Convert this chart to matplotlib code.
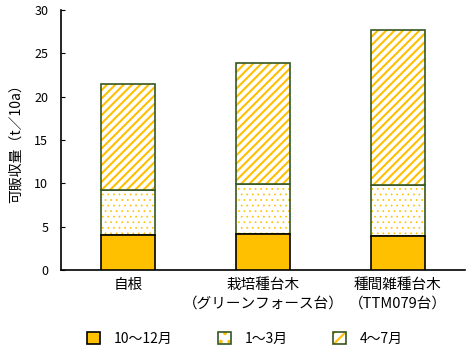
import numpy as np
import matplotlib
matplotlib.use('Agg')
import matplotlib.pyplot as plt
from matplotlib.patches import Patch
from matplotlib.legend_handler import HandlerTuple

plt.rcParams['font.family'] = ['Noto Sans CJK JP', 'DejaVu Sans']
plt.rcParams['hatch.color'] = '#FFC000'
plt.rcParams['hatch.linewidth'] = 1.5

categories = ['自根', '栽培種台木\n（グリーンフォース台）', '種間雑種台木\n（TTM079台）']
oct_dec = [4.0, 4.1, 3.9]
jan_mar = [5.2, 5.8, 5.9]
apr_jul = [12.3, 14.0, 17.9]
series_names = ['10～12月', '1～3月', '4～7月']

gold = '#FFC000'
green = '#375623'

fig = plt.figure(figsize=(4.75, 3.55), dpi=100)
ax = fig.add_axes([0.128, 0.2394, 0.851, 0.7324])

x = np.arange(len(categories))
w = 0.4
b2 = np.array(oct_dec)
b3 = b2 + np.array(jan_mar)

# 10-12: solid
ax.bar(x, oct_dec, w, color=gold, edgecolor='black', linewidth=1.2, zorder=3)

# 1-3: dots (hatch in gold, edge drawn separately in green)
dots = ax.bar(x, jan_mar, w, bottom=b2, facecolor='white', hatch='...', linewidth=0, zorder=2)
for p in dots:
    try:
        p.set_hatch_linewidth(0.5)
    except AttributeError:
        pass
ax.bar(x, jan_mar, w, bottom=b2, fill=False, edgecolor=green, linewidth=1.2, zorder=2)

# 4-7: diagonal stripes
ax.bar(x, apr_jul, w, bottom=b3, facecolor='white', hatch='////', linewidth=0, zorder=2)
ax.bar(x, apr_jul, w, bottom=b3, fill=False, edgecolor=green, linewidth=1.2, zorder=2)

ax.set_xlim(-0.5, 2.5)
ax.set_ylim(0, 30)
ax.set_yticks(range(0, 31, 5))
ax.set_xticks(x)
ax.set_xticklabels(categories, fontsize=10.5, linespacing=1.4)
ax.tick_params(axis='x', length=0, pad=6)
ax.tick_params(axis='y', direction='in', length=3, labelsize=9, pad=9)
ax.spines['top'].set_visible(False)
ax.spines['right'].set_visible(False)
ax.spines['left'].set_linewidth(1.2)
ax.spines['bottom'].set_linewidth(1.2)
ax.set_ylabel('可販収量（t／10a）', fontsize=10, labelpad=8)

h1 = Patch(facecolor=gold, edgecolor='black', linewidth=1.2)
h2a = Patch(facecolor='white', hatch='..')
h2b = Patch(fill=False, edgecolor=green, linewidth=1.2)
h3a = Patch(facecolor='white', hatch='///')
h3b = Patch(fill=False, edgecolor=green, linewidth=1.2)
fig.legend([h1, (h2a, h2b), (h3a, h3b)], series_names,
           handler_map={tuple: HandlerTuple(ndivide=1, pad=0)},
           loc='center', bbox_to_anchor=(245 / 475, 1 - 339 / 355),
           ncol=3, frameon=False, fontsize=10, handlelength=0.9,
           handleheight=0.9, handletextpad=1.0, columnspacing=3.3)

fig.savefig('out.png', dpi=100)
